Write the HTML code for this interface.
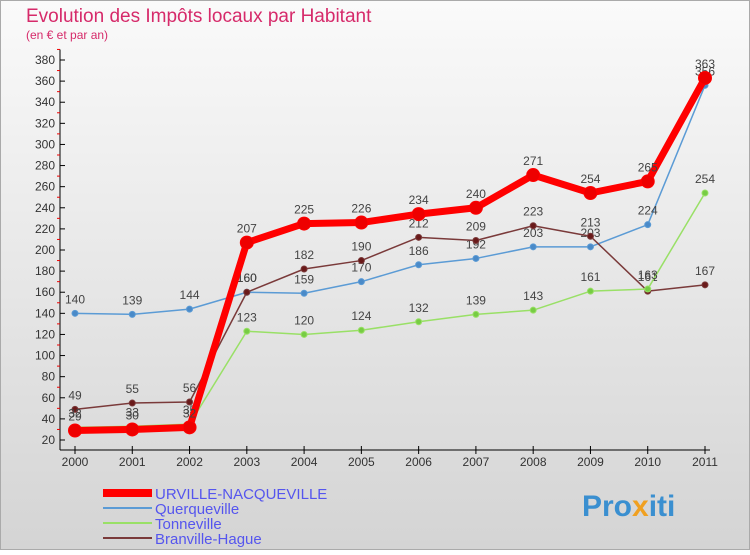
<!DOCTYPE html>
<html><head><meta charset="utf-8"><style>
body{margin:0;width:750px;height:550px;overflow:hidden;font-family:"Liberation Sans",sans-serif}
</style></head><body>
<svg width="750" height="550" xmlns="http://www.w3.org/2000/svg">
<defs><linearGradient id="bg" x1="0" y1="0" x2="0" y2="1"><stop offset="0" stop-color="#fafafa"/><stop offset="1" stop-color="#d4d4d4"/></linearGradient></defs>
<rect x="0.5" y="0.5" width="749" height="549" fill="url(#bg)" stroke="#aaa"/>
<text x="26" y="22" font-size="19" fill="#d62a6a">Evolution des Impôts locaux par Habitant</text>
<text x="26" y="39" font-size="12" fill="#d62a6a">(en € et par an)</text>
<g id="axes"></g>
<g id="series"></g>
<g id="legend">
<line x1="103" y1="493" x2="152" y2="493" stroke="#f00" stroke-width="8"/>
<text x="155" y="499" font-size="15" fill="#5555ee">URVILLE-NACQUEVILLE</text>
<line x1="103" y1="508" x2="152" y2="508" stroke="#5b9bd5" stroke-width="2"/>
<text x="155" y="514" font-size="15" fill="#5555ee">Querqueville</text>
<line x1="103" y1="523" x2="152" y2="523" stroke="#99e066" stroke-width="2"/>
<text x="155" y="529" font-size="15" fill="#5555ee">Tonneville</text>
<line x1="103" y1="538" x2="152" y2="538" stroke="#7a3a3a" stroke-width="2"/>
<text x="155" y="544" font-size="15" fill="#5555ee">Branville-Hague</text>
</g>
<text x="582" y="516" font-size="30" font-weight="bold" fill="#3a8fd0">Pro<tspan fill="#f0a020">x</tspan>iti</text>
</svg>
<script>
const years=["2000","2001","2002","2003","2004","2005","2006","2007","2008","2009","2010","2011"];
const yTicks=[20,40,60,80,100,120,140,160,180,200,220,240,260,280,300,320,340,360,380];
const urville=[29,30,32,207,225,226,234,240,271,254,265,363];
const querqueville=[140,139,144,160,159,170,186,192,203,203,224,356];
const tonneville=[32,33,35,123,120,124,132,139,143,161,163,254];
const branville=[49,55,56,160,182,190,212,209,223,213,161,167];
const NS="http://www.w3.org/2000/svg";
function X(i){return 75+i*(630/11);}
function Y(v){return 440-(v-20)*380/360;}
function mk(tag,attrs,parent){const e=document.createElementNS(NS,tag);for(const k in attrs)e.setAttribute(k,attrs[k]);parent.appendChild(e);return e;}
const ax=document.getElementById('axes');
let a=mk('line',{x1:60,y1:Y(390),x2:60,y2:450,stroke:'#000'},ax);


a=mk('line',{x1:60,y1:450,x2:710,y2:450,stroke:'#000'},ax);


yTicks.forEach(t=>{
 mk('line',{x1:60,y1:Y(t),x2:65,y2:Y(t),stroke:'#000'},ax);
 mk('line',{x1:57,y1:Y(t+10),x2:60,y2:Y(t+10),stroke:'#e00'},ax);
 const tx=mk('text',{x:55,y:Y(t)+4,'font-size':12,'text-anchor':'end',fill:'#333'},ax);
 tx.textContent=t;
 
 
});
years.forEach((y,i)=>{
 mk('line',{x1:X(i),y1:446,x2:X(i),y2:454,stroke:'#000'},ax);
 const tx=mk('text',{x:X(i),y:466,'font-size':12,'text-anchor':'middle',fill:'#333'},ax);
 tx.textContent=y;
 
 
});
const sg=document.getElementById('series');
function draw(name,data,color,w,r,fill){
 const g=mk('g',{},sg);
 
 
 const p=mk('polyline',{points:data.map((v,i)=>X(i)+','+Y(v)).join(' '),fill:'none',stroke:color,'stroke-width':w,'stroke-linejoin':'round'},g);
 
 
 data.forEach((v,i)=>{
  const c=mk('circle',{cx:X(i),cy:Y(v),r:r,fill:fill,stroke:color,'stroke-width':1},g);
  
  
  const t=mk('text',{x:X(i),y:Y(v)-10,'font-size':12,'text-anchor':'middle',fill:'#444'},g);
  t.textContent=v;
  
  
 });
}
draw('querqueville',querqueville,'#5b9bd5',1.5,3,'#4a8ac8');
draw('branville',branville,'#7a3a3a',1.5,3,'#6a1a1a');
draw('tonneville',tonneville,'#99e066',1.5,3,'#77cc44');
draw('urville',urville,'#ff0000',7,6.5,'#ee0000');
</script>
</body></html>
